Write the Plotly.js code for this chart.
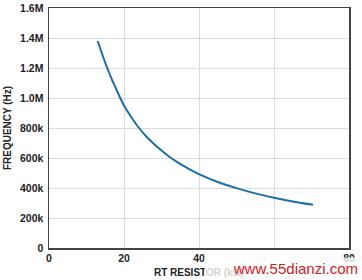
<!DOCTYPE html>
<html><head><meta charset="utf-8">
<script src="https://cdn.plot.ly/plotly-3.0.1.min.js"></script>
<style>html,body{margin:0;padding:0;background:#fff}#c{width:362px;height:280px}</style>
</head><body><div id="c"></div>
<script>
var resistance = [13, 14, 15, 16, 17, 18, 19, 20, 22, 24, 26, 28, 30, 32, 34, 36, 38, 40, 45, 50, 55, 60, 65, 70.4];
var frequency = [1380000, 1305000, 1235000, 1170000, 1110000, 1055000, 1000000, 950000, 870000, 800000, 742000, 693000, 650000, 610000, 576000, 546000, 518000, 493000, 440000, 399000, 364000, 335000, 310000, 288000];
var xTicks = [0, 20, 40, 60, 80];
var yTicks = [0, 200000, 400000, 600000, 800000, 1000000, 1200000, 1400000, 1600000];
var yTickLabels = ["0", "200k", "400k", "600k", "800k", "1.0M", "1.2M", "1.4M", "1.6M"];

var font = {family: "Liberation Sans, Arial, sans-serif", size: 10.5, color: "#222"};
Plotly.newPlot("c", [{
  x: resistance, y: frequency, mode: "lines", type: "scatter",
  line: {color: "#1b6fa9", width: 2, shape: "spline", smoothing: 0.6}, hoverinfo: "skip"
}], {
  width: 362, height: 280,
  margin: {l: 49, r: 13, t: 8, b: 32},
  paper_bgcolor: "#fff", plot_bgcolor: "#fff",
  showlegend: false,
  font: font,
  xaxis: {
    range: [0, 80], tickvals: xTicks, ticktext: xTicks.map(String),
    showgrid: true, gridcolor: "#dcdcdc", gridwidth: 1,
    showline: true, linecolor: "#444", linewidth: 1.5, mirror: true,
    zeroline: false, ticks: "", tickfont: {family: font.family, size: 10.5, color: "#222", weight: "bold"},
    title: {text: "RT RESISTOR (kΩ)", font: {family: font.family, size: 10, color: "#222", weight: "bold"}, standoff: 6}
  },
  yaxis: {
    range: [0, 1600000], tickvals: yTicks, ticktext: yTickLabels,
    showgrid: true, gridcolor: "#dcdcdc", gridwidth: 1,
    showline: true, linecolor: "#444", linewidth: 1.5, mirror: true,
    zeroline: false, ticks: "", ticklabelstandoff: 2,
    tickfont: {family: font.family, size: 10.5, color: "#222", weight: "bold"},
    title: {text: "FREQUENCY (Hz)", font: {family: font.family, size: 10, color: "#222", weight: "bold"}, standoff: 6}
  },
  shapes: [{type: "rect", xref: "paper", yref: "paper", x0: 0.676, x1: 0.91, y0: -0.14, y1: -0.01, fillcolor: "#fff", line: {width: 0}, layer: "above"}],
  annotations: [{text: "www.55dianzi.com", xref: "paper", yref: "paper", x: 1.035, y: -0.085, xanchor: "right", yanchor: "middle", showarrow: false,
    width: 152, height: 18, align: "right",
    font: {family: "Liberation Sans, Arial, sans-serif", size: 15, color: "#d42020"}, bgcolor: "rgba(255,255,255,0.8)"}]
}, {displayModeBar: false, staticPlot: true});
</script></body></html>
